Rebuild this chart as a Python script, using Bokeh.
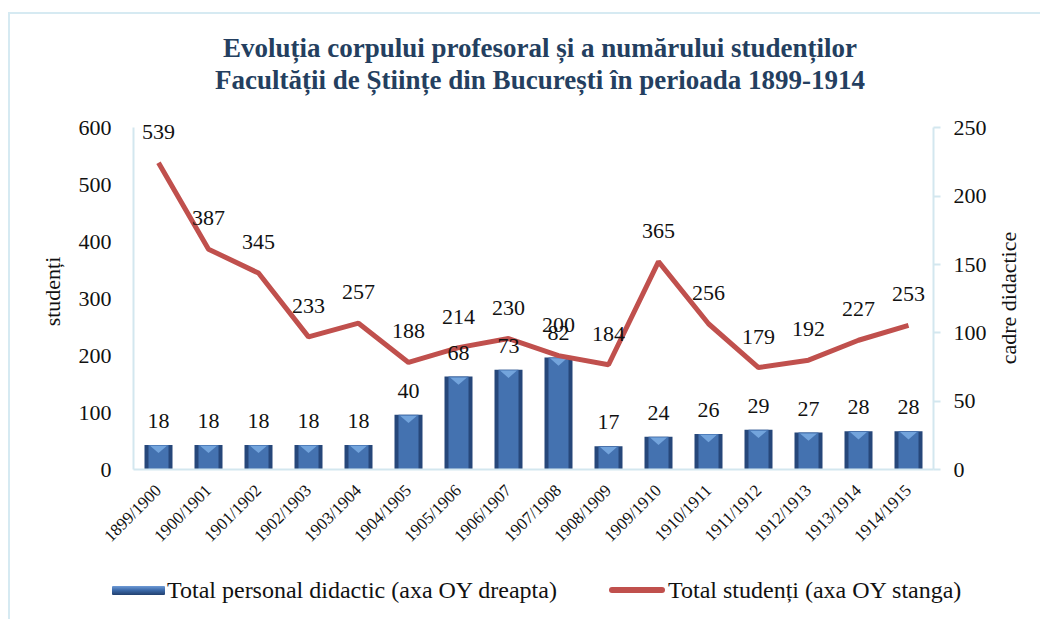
import math
from bokeh.plotting import figure
from bokeh.layouts import column, row
from bokeh.models import (FactorRange, Range1d, LinearAxis, ColumnDataSource, LabelSet,
                          FixedTicker, Div)
from bokeh.embed import file_html
from bokeh.resources import INLINE

# ---- data ----
years = ["1899/1900", "1900/1901", "1901/1902", "1902/1903", "1903/1904", "1904/1905",
         "1905/1906", "1906/1907", "1907/1908", "1908/1909", "1909/1910", "1910/1911",
         "1911/1912", "1912/1913", "1913/1914", "1914/1915"]
teachers = [18, 18, 18, 18, 18, 40, 68, 73, 82, 17, 24, 26, 29, 27, 28, 28]
students = [539, 387, 345, 233, 257, 188, 214, 230, 200, 184, 365, 256, 179, 192, 227, 253]
left_ticks = [0, 100, 200, 300, 400, 500, 600]
right_ticks = [0, 50, 100, 150, 200, 250]

title_line1 = "Evoluția corpului profesoral și a numărului studenților"
title_line2 = "Facultății de Științe din București în perioada 1899-1914"
left_label = "studenți"
right_label = "cadre didactice"
bar_name = "Total personal didactic (axa OY dreapta)"
line_name = "Total studenți (axa OY stanga)"

FONT = "Liberation Serif"
AXIS_COL = "#D3E7EF"
FRAME_COL = "#D6EAF2"
TXT = "#111111"
TITLE_COL = "#243F60"
BAR_DARK = "#26477A"
BAR_MID = "#4472B0"
BAR_LIGHT = "#76A6DE"
LINE_COL = "#C0504D"

LEFT_MAX = left_ticks[-1]
RIGHT_MAX = right_ticks[-1]
HEAD = 356.0 / 341.6   # headroom above the top tick so the top data label is not clipped

src = ColumnDataSource(dict(
    x=years, t=teachers, s=students,
    t_txt=[str(v) for v in teachers], s_txt=[str(v) for v in students],
))

# bevel highlight triangles at the top of each bar (computed from the bar values)
tri_xs, tri_ys = [], []
for i, v in enumerate(teachers):
    c = i + 0.5
    tri_xs.append([c - 0.17, c + 0.17, c])
    tri_ys.append([v - 0.6, v - 0.6, v - 6.0])

p = figure(width=985, height=447, x_range=FactorRange(*years),
           y_range=Range1d(0, LEFT_MAX * HEAD),
           output_backend="svg", toolbar_location=None,
           min_border_left=123, min_border_right=62, min_border_top=0, min_border_bottom=91)
p.extra_y_ranges = {"right": Range1d(0, RIGHT_MAX * HEAD)}
p.xgrid.visible = False
p.ygrid.visible = False
p.outline_line_color = None
p.background_fill_color = "white"
p.border_fill_color = "white"

# bars (right axis)
p.vbar(x="x", top="t", width=0.56, source=src, y_range_name="right",
       fill_color=BAR_DARK, line_color=None)
p.vbar(x="x", top="t", width=0.40, source=src, y_range_name="right",
       fill_color=BAR_MID, line_color=None)
p.patches(xs=tri_xs, ys=tri_ys, y_range_name="right", fill_color=BAR_LIGHT,
          line_color=None, fill_alpha=0.95)

# line (left axis)
p.line(x="x", y="s", source=src, line_color=LINE_COL, line_width=5)

# data labels
p.add_layout(LabelSet(x="x", y="t", text="t_txt", source=src, y_range_name="right",
                      y_offset=24, text_align="center", text_baseline="middle",
                      text_font=FONT, text_font_size="22px", text_color=TXT))
p.add_layout(LabelSet(x="x", y="s", text="s_txt", source=src,
                      y_offset=31, text_align="center", text_baseline="middle",
                      text_font=FONT, text_font_size="22px", text_color=TXT))

# axes styling
xa = p.xaxis[0]
xa.major_label_orientation = math.pi / 4
xa.major_label_text_font = FONT
xa.major_label_text_font_size = "17px"
xa.major_label_text_color = TXT
xa.major_tick_line_color = None
xa.major_tick_out = 0
xa.minor_tick_line_color = None
xa.axis_line_color = AXIS_COL
xa.axis_line_width = 2
xa.major_label_standoff = 18

ya = p.yaxis[0]
ya.ticker = FixedTicker(ticks=left_ticks)
ya.bounds = (0, LEFT_MAX)
ya.major_label_text_font = FONT
ya.major_label_text_font_size = "22px"
ya.major_label_text_color = TXT
ya.major_tick_line_color = None
ya.major_tick_out = 0
ya.minor_tick_line_color = None
ya.axis_line_color = AXIS_COL
ya.axis_line_width = 2
ya.major_label_standoff = 22
ya.axis_label = left_label
ya.axis_label_text_font = FONT
ya.axis_label_text_font_size = "22px"
ya.axis_label_text_font_style = "normal"
ya.axis_label_text_color = TXT
ya.axis_label_standoff = 11

ra = LinearAxis(y_range_name="right", ticker=FixedTicker(ticks=right_ticks))
ra.bounds = (0, RIGHT_MAX)
ra.major_label_text_font = FONT
ra.major_label_text_font_size = "22px"
ra.major_label_text_color = TXT
ra.major_tick_line_color = AXIS_COL
ra.major_tick_line_width = 2
ra.major_tick_out = 7
ra.major_tick_in = 0
ra.minor_tick_line_color = None
ra.axis_line_color = AXIS_COL
ra.axis_line_width = 2
ra.major_label_standoff = 13
p.add_layout(ra, "right")

# title strip (two centred lines)
title_div = Div(width=1030, height=99, margin=(0, 0, 0, 0), text=(
    '<div style="position:relative;width:1030px;height:99px;'
    "font-family:'Liberation Serif';font-size:27px;font-weight:bold;color:" + TITLE_COL + ';'
    'white-space:nowrap;line-height:32px;">'
    '<span style="position:absolute;left:530px;top:18px;transform:translateX(-50%);">'
    + title_line1 + '</span>'
    '<span style="position:absolute;left:530px;top:50px;transform:translateX(-50%);">'
    + title_line2 + '</span></div>'))

# right axis title (reads bottom-to-top)
right_div = Div(width=45, height=447, margin=(0, 0, 0, 0), text=(
    '<div style="position:relative;width:45px;height:447px;">'
    '<span style="position:absolute;left:14px;top:185px;white-space:nowrap;'
    "font-family:'Liberation Serif';font-size:22px;line-height:24px;color:" + TXT + ';'
    'transform:translate(-50%,-50%) rotate(-90deg);">' + right_label + '</span></div>'))

# legend strip below the chart
legend_div = Div(width=1030, height=59, margin=(0, 0, 0, 0), text=(
    '<div style="position:relative;width:1030px;height:59px;'
    "font-family:'Liberation Serif';font-size:24px;color:" + TXT + ';white-space:nowrap;">'
    '<span style="position:absolute;left:102px;top:26px;width:53px;height:9px;'
    'background:linear-gradient(to bottom,#6f9bd6 0%,#3d6bab 45%,#22406e 100%);'
    'border-radius:1px;"></span>'
    '<span style="position:absolute;left:157px;top:15px;line-height:30px;">' + bar_name + '</span>'
    '<span style="position:absolute;left:599px;top:27px;width:56px;height:6px;'
    'background:' + LINE_COL + ';border-radius:3px;"></span>'
    '<span style="position:absolute;left:658px;top:15px;line-height:30px;">' + line_name + '</span>'
    '</div>'))

root = column(title_div, row(p, right_div, spacing=0), legend_div, spacing=0)
root.styles = {"margin-left": "8px", "margin-top": "12px",
               "border-top": "2px solid " + FRAME_COL, "border-left": "2px solid " + FRAME_COL}

open("out.html", "w").write(file_html(root, INLINE))
